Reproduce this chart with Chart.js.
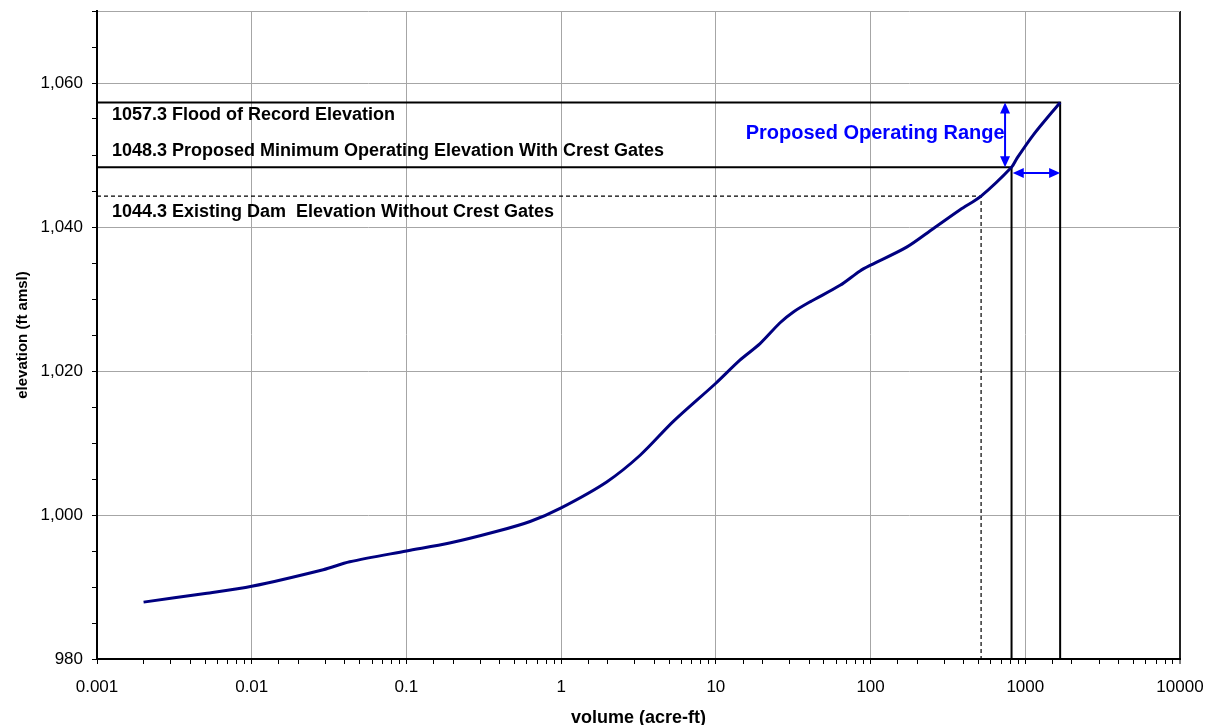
<!DOCTYPE html>
<html>
<head>
<meta charset="utf-8">
<title>Reservoir elevation vs. volume</title>
<script src="https://cdn.jsdelivr.net/npm/chart.js@4/dist/chart.umd.min.js"></script>
<style>
  html, body { margin: 0; padding: 0; background: #fff; }
  canvas { display: block; }
</style>
</head>
<body>
<canvas id="c" width="1214" height="725"></canvas>
<script>
// Stage-storage curve: volume (acre-ft) and elevation (ft amsl)
const volume = [0.002, 0.005, 0.01, 0.029, 0.043, 0.1, 0.19, 0.38, 0.63, 1, 1.97, 3.24, 5.31, 10, 14.3, 19.3, 26, 31.7, 40.6, 63.5, 85.5, 100, 171, 255, 379, 518, 815, 881, 1128, 1680];
const elevation = [987.9, 989.1, 990.1, 992.4, 993.5, 995.0, 996.1, 997.7, 999.1, 1001.0, 1004.6, 1008.3, 1013.0, 1018.3, 1021.5, 1023.8, 1026.7, 1028.2, 1029.6, 1031.9, 1033.9, 1034.7, 1037.2, 1039.8, 1042.4, 1044.3, 1048.3, 1049.5, 1052.8, 1057.3];

// Reference elevations and the storage volume at each one
const levelElevation = [1057.3, 1048.3, 1044.3];
const levelVolume = [1680, 815, 518];
const levelText = [
  '1057.3 Flood of Record Elevation',
  '1048.3 Proposed Minimum Operating Elevation With Crest Gates',
  '1044.3 Existing Dam  Elevation Without Crest Gates'
];
const levelTextElevation = [1055.6, 1050.5, 1042.1];
const levelTextVolume = 0.00125;

// Operating range callout
const rangeText = 'Proposed Operating Range';
const rangeTextVolume = 735;
const rangeTextElevation = 1053.0;
const rangeArrowVolume = 740;          // vertical arrow: 1048.3 -> 1057.3
const rangeArrowElevation = 1047.5;    // horizontal arrow: 830 -> 1680
const rangeArrowVolumeStart = 830;

// Axis limits and tick labels
const xMin = 0.001, xMax = 10000;
const yMin = 980, yMax = 1070;
const xTickLabels = ['0.001', '0.01', '0.1', '1', '10', '100', '1000', '10000'];
const yLabelStep = 20;

const FONT = '"Liberation Sans", Arial, Helvetica, sans-serif';

function decadeIndex(v) {
  const l = Math.log10(v);
  const r = Math.round(l);
  return Math.abs(l - r) < 1e-6 ? r - Math.log10(xMin) : -1;
}

const curvePoints = volume.map((v, i) => ({ x: v, y: elevation[i] }));

function levelPoints(i) {
  return [
    { x: xMin, y: levelElevation[i] },
    { x: levelVolume[i], y: levelElevation[i] },
    { x: levelVolume[i], y: yMin }
  ];
}

function drawArrow(ctx, x0, y0, x1, y1) {
  const head = 11, half = 5;
  const ang = Math.atan2(y1 - y0, x1 - x0);
  ctx.beginPath();
  ctx.moveTo(x0 + Math.cos(ang) * head * 0.8, y0 + Math.sin(ang) * head * 0.8);
  ctx.lineTo(x1 - Math.cos(ang) * head * 0.8, y1 - Math.sin(ang) * head * 0.8);
  ctx.stroke();
  const tip = (px, py, a) => {
    ctx.beginPath();
    ctx.moveTo(px, py);
    ctx.lineTo(px - Math.cos(a) * head - Math.sin(a) * half, py - Math.sin(a) * head + Math.cos(a) * half);
    ctx.lineTo(px - Math.cos(a) * head + Math.sin(a) * half, py - Math.sin(a) * head - Math.cos(a) * half);
    ctx.closePath();
    ctx.fill();
  };
  tip(x1, y1, ang);
  tip(x0, y0, ang + Math.PI);
}

const notes = {
  id: 'notes',
  afterDatasetsDraw(chart) {
    const { ctx, scales: { x, y } } = chart;
    ctx.save();
    ctx.fillStyle = '#000';
    ctx.textBaseline = 'middle';
    ctx.textAlign = 'left';
    ctx.font = 'bold 18px ' + FONT;
    levelText.forEach((t, i) => {
      ctx.fillText(t, x.getPixelForValue(levelTextVolume), y.getPixelForValue(levelTextElevation[i]));
    });

    ctx.fillStyle = '#0000ff';
    ctx.strokeStyle = '#0000ff';
    ctx.lineWidth = 2;
    ctx.font = 'bold 20px ' + FONT;
    ctx.textAlign = 'right';
    ctx.fillText(rangeText, x.getPixelForValue(rangeTextVolume), y.getPixelForValue(rangeTextElevation));

    const ax = x.getPixelForValue(rangeArrowVolume);
    drawArrow(ctx, ax, y.getPixelForValue(levelElevation[1]), ax, y.getPixelForValue(levelElevation[0]));
    const hy = y.getPixelForValue(rangeArrowElevation);
    drawArrow(ctx, x.getPixelForValue(rangeArrowVolumeStart), hy, x.getPixelForValue(levelVolume[0]), hy);
    ctx.restore();
  }
};

new Chart(document.getElementById('c'), {
  type: 'line',
  data: {
    datasets: [
      {
        label: 'elevation',
        data: curvePoints,
        borderColor: '#000080',
        borderWidth: 3,
        pointRadius: 0,
        tension: 0.3,
        fill: false
      },
      {
        label: 'flood of record',
        data: levelPoints(0),
        borderColor: '#000',
        borderWidth: 2,
        pointRadius: 0,
        tension: 0
      },
      {
        label: 'proposed minimum',
        data: levelPoints(1),
        borderColor: '#000',
        borderWidth: 2,
        pointRadius: 0,
        tension: 0
      },
      {
        label: 'existing dam',
        data: levelPoints(2),
        borderColor: '#000',
        borderWidth: 1.2,
        borderDash: [4, 3],
        pointRadius: 0,
        tension: 0
      }
    ]
  },
  options: {
    responsive: false,
    animation: false,
    events: [],
    layout: { padding: { left: 0, right: 34, top: 11, bottom: 0 } },
    plugins: {
      legend: { display: false },
      tooltip: { enabled: false }
    },
    scales: {
      x: {
        type: 'logarithmic',
        min: xMin,
        max: xMax,
        afterFit: s => { s.height = 66; s.paddingLeft = 0; s.paddingRight = 0; },
        border: { color: '#000', width: 2 },
        grid: {
          color: c => {
            const d = decadeIndex(c.tick.value);
            if (d < 0) return 'rgba(0,0,0,0)';
            return d === xTickLabels.length - 1 ? '#222' : '#a6a6a6';
          },
          lineWidth: c => decadeIndex(c.tick.value) === xTickLabels.length - 1 ? 2 : 1,
          tickColor: '#000',
          tickLength: 5,
          tickWidth: 1
        },
        ticks: {
          autoSkip: false,
          maxRotation: 0,
          minRotation: 0,
          padding: 13,
          color: '#000',
          font: { family: FONT, size: 17 },
          callback: v => {
            const d = decadeIndex(v);
            return d >= 0 ? xTickLabels[d] : '';
          }
        },
        title: {
          display: true,
          text: 'volume (acre-ft)',
          color: '#000',
          font: { family: FONT, size: 18, weight: 'bold', lineHeight: 0.8 },
          padding: { top: 0, bottom: 0 }
        }
      },
      y: {
        type: 'linear',
        min: yMin,
        max: yMax,
        afterFit: s => { s.width = 97; s.paddingTop = 0; s.paddingBottom = 0; },
        border: { color: '#000', width: 2 },
        grid: {
          color: c => {
            const v = c.tick.value;
            return (v % yLabelStep === 0 || v === yMax) ? '#a6a6a6' : 'rgba(0,0,0,0)';
          },
          tickColor: '#000',
          tickLength: 5,
          tickWidth: 1
        },
        ticks: {
          stepSize: 5,
          autoSkip: false,
          padding: 9,
          color: '#000',
          font: { family: FONT, size: 17 },
          callback: v => (v % yLabelStep === 0 ? v.toLocaleString('en-US') : '')
        },
        title: {
          display: true,
          text: 'elevation (ft amsl)',
          color: '#000',
          font: { family: FONT, size: 15, weight: 'bold' },
          padding: { top: 14, bottom: 0 }
        }
      }
    }
  },
  plugins: [notes]
});
</script>
</body>
</html>
